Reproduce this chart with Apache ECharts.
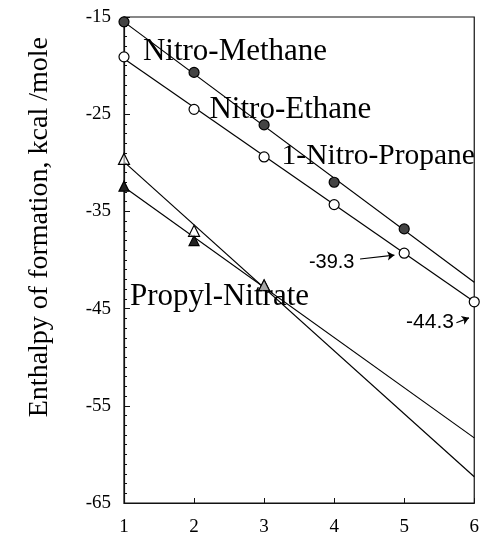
<!DOCTYPE html>
<html>
<head>
<meta charset="utf-8">
<script src="https://cdn.jsdelivr.net/npm/echarts@6/dist/echarts.min.js"></script>
<style>html,body{margin:0;padding:0;background:#fff;}#c{width:482px;height:543px;}</style>
</head>
<body>
<div id="c"></div>
<script>
// x positions (number of carbons)
const xValues = [1, 2, 3, 4, 5, 6];
// upper series (filled circles)
const filledCircles = [-15.5, -20.7, -26.1, -32.0, -36.8];
// nitro-alkanes (open circles)
const openCircles = [-19.1, -24.5, -29.4, -34.3, -39.3, -44.3];
// nitrates (open triangles / filled triangles)
const openTriangles = [-29.6, -37.0, -42.6];
const filledTriangles = [-32.4, -38.0, -42.6];
// fitted lines (endpoints)
const fitUpper = [[1, -15.5], [6, -42.3]];
const fitLower = [[1, -19.3], [6, -44.3]];
const fitNitrateA = [[1, -29.9], [6, -62.3]];
const fitNitrateB = [[1, -32.5], [6, -58.3]];
// y ticks
const yMin = -65, yMax = -15, yStep = 10;
const yTitle = 'Enthalpy of formation, kcal /mole';

const serif = 'Liberation Serif';
const sans = 'Liberation Sans';

function pts(arr) { return arr.map((v, i) => [xValues[i], v]); }
function fit(d) {
  return { type: 'line', data: d, symbol: 'none', silent: true,
    lineStyle: { color: '#000', width: 1.2 }, z: 2 };
}
function textAt(x, y, text, pos, size, font) {
  return { value: [x, y], label: { show: true, formatter: text, position: pos, distance: 0,
    fontFamily: font, fontSize: size, color: '#000', opacity: 1 } };
}

const chart = echarts.init(document.getElementById('c'));
chart.setOption({
  animation: false,
  backgroundColor: '#fff',
  grid: { left: 124, right: 5, top: 17, bottom: 40, show: true, borderColor: '#111', borderWidth: 1.2, backgroundColor: 'transparent' },
  graphic: [{
    type: 'text', left: 26, top: 37, rotation: Math.PI / 2, z: 10,
    style: { text: yTitle, fontFamily: serif, fontSize: 28, fill: '#000' }
  }],
  xAxis: {
    type: 'value', min: 1, max: 6, interval: 1,
    axisLine: { show: true, lineStyle: { color: '#111', width: 1.2 } },
    axisTick: { show: true, inside: true, length: 5, lineStyle: { color: '#111' } },
    axisLabel: { fontFamily: serif, fontSize: 19, color: '#000', margin: 15 },
    splitLine: { show: false }
  },
  yAxis: {
    type: 'value', min: yMin, max: yMax, interval: yStep,
    axisLine: { show: true, lineStyle: { color: '#111', width: 1.2 } },
    axisTick: { show: true, inside: true, length: 6, lineStyle: { color: '#111' } },
    minorTick: { show: true, splitNumber: 10, length: 3, lineStyle: { color: '#111' } },
    axisLabel: { fontFamily: serif, fontSize: 19, color: '#000', margin: 13 },
    splitLine: { show: false }
  },
  series: [
    fit(fitUpper), fit(fitLower), fit(fitNitrateA), fit(fitNitrateB),
    { type: 'scatter', data: pts(filledCircles), symbol: 'circle', symbolSize: 10,
      itemStyle: { color: '#444', borderColor: '#000', borderWidth: 1.2, opacity: 1 }, z: 3 },
    { type: 'scatter', data: pts(openCircles), symbol: 'circle', symbolSize: 10,
      itemStyle: { color: '#fff', borderColor: '#000', borderWidth: 1.2, opacity: 1 }, z: 3 },
    { type: 'scatter', data: pts(filledTriangles), symbol: 'triangle', symbolSize: 10,
      itemStyle: { color: '#222', borderColor: '#000', borderWidth: 1.2, opacity: 1 }, z: 3 },
    { type: 'scatter', data: pts(openTriangles), symbol: 'triangle', symbolSize: 11,
      itemStyle: { color: 'rgba(255,255,255,0.6)', borderColor: '#000', borderWidth: 1.2, opacity: 1 }, z: 4 },
    { type: 'lines', coordinateSystem: 'cartesian2d', symbol: ['none', 'arrow'], symbolSize: 7,
      lineStyle: { color: '#000', width: 1.2, opacity: 1 }, silent: true, z: 5,
      data: [
        { coords: [[4.37, -39.9], [4.86, -39.5]] },
        { coords: [[5.745, -46.45], [5.925, -45.95]] }
      ] },
    { type: 'scatter', symbolSize: 0, silent: true, z: 6,
      itemStyle: { opacity: 1 },
      data: [
        textAt(1.27, -18.6, 'Nitro-Methane', 'right', 31, serif),
        textAt(2.22, -24.6, 'Nitro-Ethane', 'right', 31, serif),
        textAt(3.25, -29.3, '1-Nitro-Propane', 'right', 29.5, serif),
        textAt(1.085, -43.8, 'Propyl-Nitrate', 'right', 31, serif),
        textAt(4.29, -40.3, '-39.3', 'left', 20, sans),
        textAt(5.71, -46.35, '-44.3', 'left', 21, sans)
      ] }
  ]
});
</script>
</body>
</html>
